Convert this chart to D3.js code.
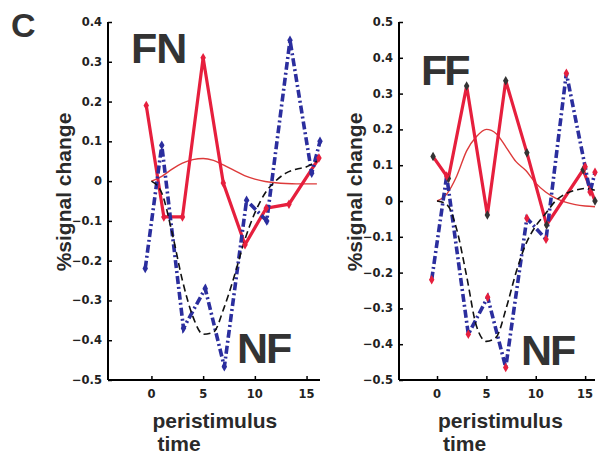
<!DOCTYPE html>
<html>
<head>
<meta charset="utf-8">
<script src="https://cdn.jsdelivr.net/npm/d3@7"></script>
<style>
  body { margin: 0; background: #fff; }
  svg { display: block; }
</style>
</head>
<body>
<div id="fig"></div>
<script>
// time points of the fitted curves (s)
var fitTime = [0, 1, 2, 3, 4, 5, 6, 7, 8, 9, 10, 11, 12, 13, 14, 15, 16];

// FN panel
var fnRedTime = [-0.5, 1.2, 3, 5, 6.95, 9.05, 11.1, 13.3, 16.2];
var fnRed = [0.19, -0.09, -0.09, 0.31, -0.005, -0.16, -0.068, -0.058, 0.058];
var fnBlueTime = [-0.6, 1.0, 3.1, 5.2, 7.05, 9.2, 11.15, 13.4, 15.5, 16.3];
var fnBlue = [-0.22, 0.09, -0.37, -0.27, -0.467, -0.048, -0.10, 0.354, 0.02, 0.10];
var fnFitBlack = [0, -0.03, -0.13, -0.25, -0.34, -0.385, -0.38, -0.32, -0.24, -0.15, -0.08, -0.03, 0.0, 0.02, 0.03, 0.036, 0.05];
var fnFitRed = [0, 0.012, 0.03, 0.045, 0.054, 0.057, 0.052, 0.04, 0.027, 0.014, 0.005, -0.001, -0.004, -0.006, -0.007, -0.007, -0.007];

// FF panel
var ffRedTime = [-0.4, 1.15, 3.0, 5.1, 6.96, 9.1, 11.1, 14.8, 16];
var ffRed = [0.124, 0.063, 0.321, -0.039, 0.336, 0.135, -0.067, 0.087, 0.0];
var ffBlueTime = [-0.54, 0.98, 3.17, 5.13, 6.96, 9.1, 11.04, 13.1, 15, 15.5, 16];
var ffBlue = [-0.22, 0.07, -0.372, -0.269, -0.465, -0.048, -0.107, 0.357, 0.096, 0.025, 0.08];
var ffFitBlack = [0, -0.01, -0.08, -0.21, -0.35, -0.392, -0.38, -0.3, -0.2, -0.12, -0.07, -0.035, 0.0, 0.02, 0.03, 0.035, 0.03];
var ffFitRed = [0, 0.02, 0.07, 0.14, 0.18, 0.2, 0.188, 0.15, 0.11, 0.085, 0.05, 0.025, 0.008, -0.003, -0.01, -0.014, -0.016];

var xTicks = [0, 5, 10, 15];
var fnYTicks = [-0.5, -0.4, -0.3, -0.2, -0.1, 0, 0.1, 0.2, 0.3, 0.4];
var ffYTicks = [-0.5, -0.4, -0.3, -0.2, -0.1, 0, 0.1, 0.2, 0.3, 0.4, 0.5];

var svgWidth = 606;
var svgHeight = 459;

var red = "#e61f3d";
var thinRed = "#dd3a3a";
var blue = "#2b2e9e";

var svg = d3.select("#fig").append("svg")
    .attr("width", svgWidth)
    .attr("height", svgHeight);

// panel letter
svg.append("text")
    .attr("x", 11)
    .attr("y", 37)
    .attr("font-family", "Liberation Sans, Arial, sans-serif")
    .attr("font-weight", "bold")
    .attr("font-size", 34)
    .attr("fill", "#333")
    .text("C");

var panels = [
    {
        left: 108, right: 320, xDomain: [-4.2, 16.3], yDomain: [-0.5, 0.4], yTicks: fnYTicks,
        redT: fnRedTime, red: fnRed, blueT: fnBlueTime, blue: fnBlue,
        fitBlack: fnFitBlack, fitRed: fnFitRed,
        redMarker: red, blueMarker: blue,
        topLabel: { text: "FN", x: 131, y: 63, ls: -1 },
        bottomLabel: { text: "NF", x: 237, y: 363, ls: -2 }
    },
    {
        left: 399, right: 595, xDomain: [-3.85, 16], yDomain: [-0.5, 0.5], yTicks: ffYTicks,
        redT: ffRedTime, red: ffRed, blueT: ffBlueTime, blue: ffBlue,
        fitBlack: ffFitBlack, fitRed: ffFitRed,
        redMarker: "#333", blueMarker: red,
        topLabel: { text: "FF", x: 421, y: 85, ls: -3 },
        bottomLabel: { text: "NF", x: 521, y: 365, ls: -2 }
    }
];

var plotTop = 22, plotBottom = 380;

panels.forEach(function(p) {
    var x = d3.scaleLinear().domain(p.xDomain).range([p.left, p.right]);
    var y = d3.scaleLinear().domain(p.yDomain).range([plotBottom, plotTop]);
    var g = svg.append("g");

    // y axis
    var yAxis = g.append("g")
        .attr("transform", `translate(${p.left},0)`)
        .call(d3.axisRight(y).tickValues(p.yTicks).tickSize(4).tickFormat(""));
    yAxis.select(".domain").attr("stroke-width", 2).attr("d", `M0,${plotTop}V${plotBottom}`);
    yAxis.selectAll(".tick line").attr("stroke-width", 1.5);

    p.yTicks.forEach(function(t) {
        g.append("text")
            .attr("x", p.left - 6)
            .attr("y", y(t) + 4)
            .attr("text-anchor", "end")
            .attr("font-family", "DejaVu Sans, Verdana, sans-serif")
            .attr("font-weight", "bold")
            .attr("font-size", 11.5)
            .attr("fill", "#222")
            .text(t < 0 ? "\u2212" + String(-t) : String(t));
    });

    // x axis
    var xAxis = g.append("g")
        .attr("transform", `translate(0,${plotBottom})`)
        .call(d3.axisTop(x).tickValues(xTicks).tickSize(4).tickFormat(""));
    xAxis.select(".domain").attr("stroke-width", 2).attr("d", `M${p.left},0H${p.right}`);
    xAxis.selectAll(".tick line").attr("stroke-width", 1.5);

    xTicks.forEach(function(t) {
        g.append("text")
            .attr("x", x(t))
            .attr("y", 397.5)
            .attr("text-anchor", "middle")
            .attr("font-family", "DejaVu Sans, Verdana, sans-serif")
            .attr("font-weight", "bold")
            .attr("font-size", 11.5)
            .attr("fill", "#222")
            .text(t);
    });

    // axis titles
    g.append("text")
        .attr("x", x(0) + 1)
        .attr("y", 428)
        .attr("font-family", "Liberation Sans, Arial, sans-serif")
        .attr("font-weight", "bold")
        .attr("font-size", 21)
        .attr("fill", "#2a2a2a")
        .text("peristimulus");
    g.append("text")
        .attr("x", x(0) + 6)
        .attr("y", 451)
        .attr("font-family", "Liberation Sans, Arial, sans-serif")
        .attr("font-weight", "bold")
        .attr("font-size", 21)
        .attr("fill", "#2a2a2a")
        .text("time");
    g.append("text")
        .attr("transform", `translate(${p.left - 37},192) rotate(-90)`)
        .attr("text-anchor", "middle")
        .attr("font-family", "Liberation Sans, Arial, sans-serif")
        .attr("font-weight", "bold")
        .attr("font-size", 21)
        .attr("fill", "#2a2a2a")
        .text("%signal change");

    // lines
    var smooth = d3.line()
        .x(function(d, i) { return x(fitTime[i]); })
        .y(function(d) { return y(d); })
        .curve(d3.curveMonotoneX);
    var straight = d3.line()
        .x(function(d) { return x(d[0]); })
        .y(function(d) { return y(d[1]); });

    var redPts = p.redT.map(function(t, i) { return [t, p.red[i]]; });
    var bluePts = p.blueT.map(function(t, i) { return [t, p.blue[i]]; });

    g.append("path")
        .attr("d", smooth(p.fitRed))
        .attr("fill", "none")
        .attr("stroke", thinRed)
        .attr("stroke-width", 1.4);

    g.append("path")
        .attr("d", straight(redPts))
        .attr("fill", "none")
        .attr("stroke", red)
        .attr("stroke-width", 3.2)
        .attr("stroke-linejoin", "miter");

    g.append("path")
        .attr("d", straight(bluePts))
        .attr("fill", "none")
        .attr("stroke", blue)
        .attr("stroke-width", 3.6)
        .attr("stroke-dasharray", "8,3,2,3");

    g.append("path")
        .attr("d", smooth(p.fitBlack))
        .attr("fill", "none")
        .attr("stroke", "#111")
        .attr("stroke-width", 1.6)
        .attr("stroke-dasharray", "7,4");

    var sym = d3.symbol().type(d3.symbolDiamond).size(26);
    g.selectAll(".redmark")
        .data(redPts)
        .enter()
        .append("path")
        .attr("d", sym)
        .attr("transform", function(d) { return `translate(${x(d[0])},${y(d[1])})`; })
        .attr("fill", p.redMarker);
    g.selectAll(".bluemark")
        .data(bluePts)
        .enter()
        .append("path")
        .attr("d", sym)
        .attr("transform", function(d) { return `translate(${x(d[0])},${y(d[1])})`; })
        .attr("fill", p.blueMarker);

    // condition labels
    [p.topLabel, p.bottomLabel].forEach(function(l) {
        g.append("text")
            .attr("x", l.x)
            .attr("y", l.y)
            .attr("font-family", "Liberation Sans, Arial, sans-serif")
            .attr("font-weight", "bold")
            .attr("font-size", 43)
            .attr("letter-spacing", l.ls)
            .attr("fill", "#333")
            .text(l.text);
    });
});
</script>
</body>
</html>
